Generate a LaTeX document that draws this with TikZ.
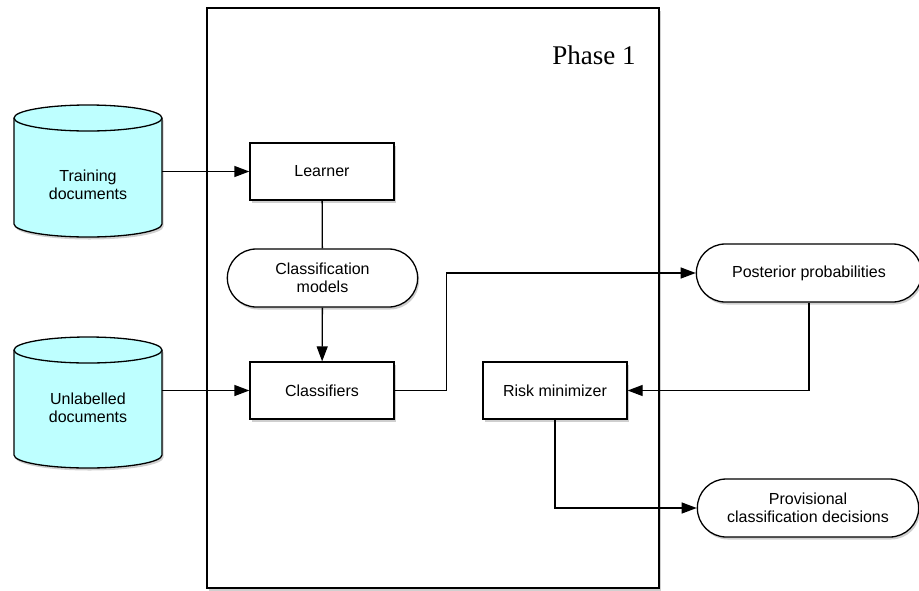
\documentclass[tikz,border=0pt]{standalone}
\usepackage{fontspec}
\setmainfont{Liberation Sans}
\newfontfamily\phasefont{Liberation Serif}
\usetikzlibrary{arrows.meta,shapes.misc,shadows}
\definecolor{dbcyan}{RGB}{190,255,255}
\definecolor{shadowgray}{RGB}{120,120,120}

\tikzset{
  soft/.style={drop shadow={opacity=0.35,shadow xshift=1.5pt,shadow yshift=-2.5pt,fill=shadowgray}},
  box/.style={draw,line width=1.3pt,fill=white,soft,minimum width=144pt,minimum height=57pt,
              font=\fontsize{16}{18.5}\selectfont},
  pill/.style={draw,line width=1.3pt,fill=white,soft,rounded rectangle,align=center,
               minimum height=58pt,font=\fontsize{16}{18.5}\selectfont},
  cyltext/.style={align=center,minimum width=148pt,font=\fontsize{16}{18.5}\selectfont},
  flow/.style={line width=1.3pt,-{Triangle[length=15pt,width=11pt]}},
  link/.style={line width=1.3pt},
}

% database drum: centre x, top-ellipse y, bottom-ellipse y
\newcommand{\drum}[3]{%
  \fill[shadowgray,opacity=0.35]
    ({#1-74+1.5},{#2+2.5}) -- ({#1-74+1.5},{#3+2.5}) arc (180:360:74pt and 13pt)
    -- ({#1+74+1.5},{#2+2.5}) arc (0:180:74pt and 13pt) -- cycle;
  \filldraw[fill=dbcyan,line width=1.3pt]
    ({#1-74},#2) -- ({#1-74},#3) arc (180:360:74pt and 13pt)
    -- ({#1+74},#2) arc (0:180:74pt and 13pt) -- cycle;
  \draw[line width=1.3pt] ({#1-74},#2) arc (180:360:74pt and 13pt);
}

\begin{document}
\begin{tikzpicture}[x=1pt,y=-1pt]
  \useasboundingbox (0,0) rectangle (919,590);

  % phase frame
  \draw[line width=1.3pt,fill=white,soft] (207,8) rectangle (659,588);
  \node[font=\phasefont\fontsize{27}{31}\selectfont] (phase) at (594,55) {Phase 1};

  % data stores
  \drum{88}{118}{224}
  \drum{88}{350}{455}
  \node[cyltext] (train) at (88,185) {Training\\documents};
  \node[cyltext] (unlab) at (88,408) {Unlabelled\\documents};

  % processing steps
  \node[box]  (learner) at (322,171.5) {Learner};
  \node[pill,minimum width=197pt] (models) at (322.5,278) {Classification\\models};
  \node[box]  (classif) at (322,390.5) {Classifiers};
  \node[box]  (risk)    at (555,390.5) {Risk minimizer};
  \node[pill,minimum width=232pt] (post) at (809,273) {Posterior probabilities};
  \node[pill,minimum width=228pt] (prov) at (808,508) {Provisional\\classification decisions};

  % connectors
  \draw[flow] (train.east |- learner.west) -- (learner.west);
  \draw[link] (learner) -- (models);
  \draw[flow] (models) -- (classif);
  \draw[flow] (unlab.east |- classif.west) -- (classif.west);
  \draw[flow] (classif.east) -- ++(52,0) |- (post.west);
  \draw[flow] (post.south) |- (risk.east);
  \draw[flow] (risk.south) |- (prov.west);
\end{tikzpicture}
\end{document}
